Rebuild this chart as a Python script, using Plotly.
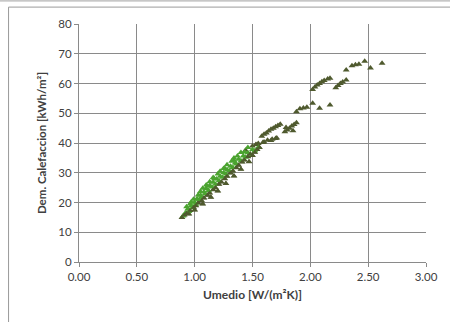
import plotly.graph_objects as go

# Heating demand vs. mean U-value, two building groups
green_u = [0.90, 0.92, 0.94, 0.95, 0.96, 0.97, 0.98, 1.00, 1.01, 1.02, 1.03, 1.04,
           1.05, 1.06, 1.08, 1.09, 1.10, 1.11, 1.12, 1.13, 1.15, 1.16, 1.17, 1.18,
           1.19, 1.21, 1.22, 1.24, 1.25, 1.26, 1.27, 1.28, 1.30, 1.31, 1.33, 1.34,
           1.35, 1.36, 1.38, 1.40, 1.42, 1.43, 1.44, 1.46, 1.48, 1.50, 1.52, 1.55,
           0.93, 0.99, 1.05, 1.10, 1.16, 1.22, 1.28, 1.34, 1.40, 1.46,
           0.97, 1.07, 1.13, 1.20, 1.25, 1.32, 1.37]
green_q = [15.5, 16.5, 17.8, 17.0, 19.5, 18.9, 18.2, 20.1, 19.4, 21.3, 22.5, 21.0,
           22.4, 21.8, 23.5, 22.9, 24.6, 25.5, 24.0, 25.7, 25.2, 26.8, 28.0, 26.1,
           27.9, 27.3, 28.8, 28.5, 30.0, 31.5, 29.6, 31.0, 30.7, 32.2, 31.8, 34.2,
           33.3, 32.9, 34.5, 34.0, 35.6, 37.0, 35.2, 36.7, 36.1, 37.8, 37.4, 38.6,
           18.6, 21.1, 23.7, 25.9, 28.4, 30.5, 32.7, 35.0, 36.8, 38.5,
           20.2, 24.8, 27.0, 29.6, 31.4, 33.9, 35.6]

olive_u = [0.89, 0.91, 0.93, 0.96, 0.99, 1.01, 1.03, 1.06, 1.08, 1.11, 1.13, 1.16,
           1.18, 1.21, 1.23, 1.26, 1.28, 1.31, 1.33, 1.36, 1.38, 1.41, 1.43, 1.46,
           1.48, 1.50, 1.52, 1.54, 1.56, 1.53,
           0.95, 1.00, 1.07, 1.14, 1.20, 1.27, 1.34, 1.40, 1.47,
           1.44, 1.50, 1.55, 1.60, 1.66, 1.70,
           1.58, 1.60, 1.62, 1.64, 1.66, 1.68,
           1.70, 1.72, 1.74, 1.59, 1.63, 1.67, 1.71, 1.78, 1.80, 1.82, 1.84, 1.86,
           1.88, 1.79, 1.85, 1.88, 1.91, 1.94, 1.97, 2.02, 2.08, 2.17,
           2.02, 2.04, 2.06, 2.08, 2.10, 2.12, 2.15, 2.17, 2.22, 2.24, 2.26, 2.28,
           2.31, 2.31, 2.36, 2.39, 2.42, 2.47, 2.52, 2.62]
olive_q = [15.0, 15.8, 16.4, 17.3, 18.3, 18.9, 19.8, 20.6, 21.5, 22.4, 23.2, 24.3,
           25.0, 26.1, 26.9, 28.0, 28.8, 29.9, 30.6, 31.7, 32.5, 33.6, 34.3, 35.4,
           36.3, 35.8, 36.9, 37.8, 38.5, 39.5,
           16.1, 17.5, 19.5, 21.8, 23.9, 26.4, 28.9, 31.2, 33.7,
           37.6, 39.0, 39.8, 40.3, 40.8, 41.5,
           42.3, 42.9, 43.4, 44.0, 44.6, 45.0,
           45.5, 45.9, 46.3, 40.2, 40.9, 41.3, 41.7, 43.8, 44.4, 45.0, 45.7, 46.2,
           46.8, 45.2, 44.1, 50.5, 51.5, 51.8, 52.0, 53.4, 51.7, 52.8,
           58.0, 58.8, 59.5, 60.0, 60.6, 61.0, 61.5, 61.8, 58.6, 59.3, 60.0, 60.5,
           61.2, 64.5, 66.0, 66.3, 66.5, 67.5, 65.2, 66.8]

x_ticks = [0.0, 0.5, 1.0, 1.5, 2.0, 2.5, 3.0]
x_labels = ["0.00", "0.50", "1.00", "1.50", "2.00", "2.50", "3.00"]
y_ticks = [0, 10, 20, 30, 40, 50, 60, 70, 80]

FONT = "Lato, 'Open Sans', sans-serif"
GRID = "#8a8a8a"
TEXT = "#404040"
N_LOW = 39  # darker points that sit inside the lower band

fig = go.Figure()
fig.add_trace(go.Scatter(
    x=olive_u, y=olive_q, mode="markers", name="B",
    marker=dict(symbol="triangle-up", size=6, color="#4f5a2e",
                line=dict(width=0)),
))
fig.add_trace(go.Scatter(
    x=green_u, y=green_q, mode="markers", name="A",
    marker=dict(symbol="triangle-up", size=6, color="#4aa32f",
                line=dict(width=0)),
))
# Darker group redrawn over the lower band
fig.add_trace(go.Scatter(
    x=olive_u[:N_LOW], y=olive_q[:N_LOW], mode="markers", showlegend=False,
    marker=dict(symbol="triangle-up", size=5, color="#4f5a2e",
                line=dict(width=0)),
))

fig.update_layout(
    width=450, height=322,
    margin=dict(l=79, r=21, t=24, b=60),
    paper_bgcolor="white", plot_bgcolor="white",
    showlegend=False,
    font=dict(family=FONT, size=11, color=TEXT),
    xaxis=dict(
        range=[0, 3], tickvals=x_ticks, ticktext=x_labels,
        showgrid=True, gridcolor=GRID, gridwidth=1,
        zeroline=False, showline=True, linecolor=GRID, linewidth=1,
        ticks="outside", ticklen=4, tickcolor=GRID,
        tickfont=dict(size=11.5, color=TEXT),
        title=dict(text="<b>Umedio [W/(m²K)]</b>", font=dict(size=12, color=TEXT),
                   standoff=8),
        fixedrange=True,
    ),
    yaxis=dict(
        range=[0, 80], tickvals=y_ticks,
        showgrid=True, gridcolor=GRID, gridwidth=1,
        zeroline=False, showline=True, linecolor=GRID, linewidth=1,
        ticks="outside", ticklen=4, tickcolor=GRID,
        tickfont=dict(size=11.5, color=TEXT),
        title=dict(text="<b>Dem. Calefaccion [kWh/m²]</b>", font=dict(size=11.5, color=TEXT),
                   standoff=9),
        fixedrange=True,
    ),
    shapes=[
        # top edge of the sheet
        dict(type="line", xref="paper", yref="paper", x0=-0.3, x1=1.1, y0=1.097, y1=1.097,
             line=dict(color="#a0a0a0", width=1)),
        # chart frame: top and left edges
        dict(type="line", xref="paper", yref="paper", x0=-0.203, x1=1.1, y0=1.071, y1=1.071,
             line=dict(color="#9a9a9a", width=1)),
        dict(type="line", xref="paper", yref="paper", x0=-0.203, x1=-0.203, y0=1.071, y1=-0.3,
             line=dict(color="#9a9a9a", width=1)),
    ],
)

fig.write_html("out.html")
